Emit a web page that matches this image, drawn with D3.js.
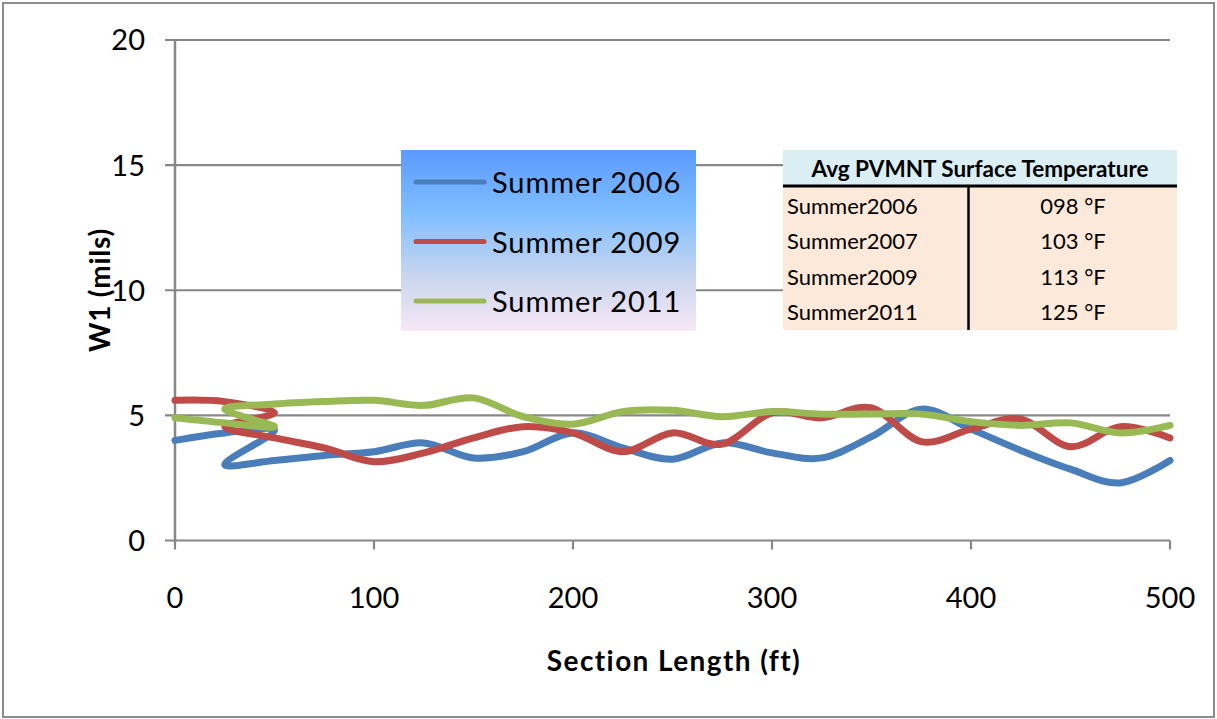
<!DOCTYPE html>
<html><head><meta charset="utf-8">
<script src="https://cdn.jsdelivr.net/npm/d3@7"></script>
<style>
html,body{margin:0;padding:0;background:#fff;}
svg{display:block;}
text{font-family:Lato,"Open Sans",sans-serif;}
</style></head>
<body><svg id="chart" width="1217" height="719"></svg>
<script>
// ---- data ----
const seriesNames = ["Summer 2006", "Summer 2009", "Summer 2011"];
const x2006 = [0,25,50,25,50,75,100,125,150,175,200,225,250,275,300,325,350,375,400,425,450,475,500];
const y2006 = [4.0,4.3,4.4,3.05,3.2,3.4,3.55,3.9,3.3,3.55,4.3,3.7,3.25,3.9,3.5,3.3,4.15,5.25,4.45,3.6,2.85,2.3,3.2];
const x2009 = [0,25,50,25,50,75,100,125,150,175,200,225,250,275,300,325,350,375,400,425,450,475,500];
const y2009 = [5.6,5.55,5.1,4.55,4.1,3.7,3.15,3.5,4.1,4.55,4.3,3.55,4.3,3.85,5.1,4.9,5.3,3.95,4.45,4.85,3.75,4.55,4.1];
const x2011 = [0,25,50,25,50,75,100,125,150,175,200,225,250,275,300,325,350,375,400,425,450,475,500];
const y2011 = [4.9,4.7,4.55,5.25,5.45,5.55,5.6,5.4,5.7,4.95,4.65,5.15,5.2,4.95,5.15,5.05,5.05,5.05,4.75,4.6,4.7,4.3,4.6];
const xTicks = [0,100,200,300,400,500];
const yTicks = [0,5,10,15,20];
const tableTitle = "Avg PVMNT Surface Temperature";
const tableLabels = ["Summer2006","Summer2007","Summer2009","Summer2011"];
const tableValues = ["098 °F","103 °F","113 °F","125 °F"];
const colors = ["#4A7EBB","#BE4B48","#98B954"];

// ---- layout ----
const svg = d3.select("#chart");
const L = 175, R = 1170, T = 40, B = 540.5;
const x = d3.scaleLinear().domain([0,500]).range([L,R]);
const y = d3.scaleLinear().domain([0,20]).range([B,T]);

// outer border
svg.append("rect").attr("x",3).attr("y",3).attr("width",1211).attr("height",714)
  .attr("fill","#fff").attr("stroke","#8c8c8c").attr("stroke-width",2);

// gridlines
svg.append("g").selectAll("line").data(yTicks).join("line")
  .attr("x1",165).attr("x2",R).attr("y1",d=>y(d)).attr("y2",d=>y(d))
  .attr("stroke","#878787").attr("stroke-width",2.2);

// y axis line
svg.append("line").attr("x1",L).attr("x2",L).attr("y1",T-1).attr("y2",B+1)
  .attr("stroke","#878787").attr("stroke-width",2.5);
// x ticks
svg.append("g").selectAll("line").data(xTicks).join("line")
  .attr("x1",d=>x(d)).attr("x2",d=>x(d)).attr("y1",B).attr("y2",B+9)
  .attr("stroke","#878787").attr("stroke-width",2.2);

// tick labels
svg.append("g").selectAll("text").data(yTicks).join("text")
  .attr("x",145).attr("y",d=>y(d)).attr("dy","0.36em").attr("text-anchor","end")
  .attr("font-size",29).attr("fill","#000").text(d=>d);
svg.append("g").selectAll("text").data(xTicks).join("text")
  .attr("x",d=>x(d)).attr("y",598).attr("dy","0.36em").attr("text-anchor","middle")
  .attr("font-size",29).attr("fill","#000").text(d=>d);

// axis titles
svg.append("text").attr("transform","translate(110,290) rotate(-90)")
  .attr("text-anchor","middle").attr("font-weight","bold").attr("font-size",28)
  .attr("letter-spacing",0.8).text("W1 (mils)");
svg.append("text").attr("x",674).attr("y",661).attr("dy","0.36em")
  .attr("text-anchor","middle").attr("font-weight","bold").attr("font-size",28)
  .attr("letter-spacing",1.4).text("Section Length (ft)");

// lines
const lineGen = d3.line().x(d=>x(d[0])).y(d=>y(d[1])).curve(d3.curveCatmullRom.alpha(0));
const allSeries = [
  d3.zip(x2006,y2006), d3.zip(x2009,y2009), d3.zip(x2011,y2011)
];
[0,1,2].forEach(i=>{
  svg.append("path").datum(allSeries[i]).attr("d",lineGen)
    .attr("fill","none").attr("stroke",colors[i]).attr("stroke-width",7)
    .attr("stroke-linejoin","round").attr("stroke-linecap","round");
});

// legend
const defs = svg.append("defs");
const grad = defs.append("linearGradient").attr("id","lg").attr("x1",0).attr("x2",0).attr("y1",0).attr("y2",1);
grad.append("stop").attr("offset","0%").attr("stop-color","#5B9AFF");
grad.append("stop").attr("offset","35%").attr("stop-color","#7FBEFF");
grad.append("stop").attr("offset","70%").attr("stop-color","#C9D6EE");
grad.append("stop").attr("offset","100%").attr("stop-color","#F8E8F6");
const lg = svg.append("g");
lg.append("rect").attr("x",401).attr("y",150).attr("width",295).attr("height",181).attr("fill","url(#lg)");
seriesNames.forEach((n,i)=>{
  const yy = 182 + i*59.5;
  lg.append("line").attr("x1",416).attr("x2",484).attr("y1",yy).attr("y2",yy)
    .attr("stroke",colors[i]).attr("stroke-width",5).attr("stroke-linecap","round");
  lg.append("text").attr("x",492).attr("y",yy+1).attr("dy","0.36em")
    .attr("font-size",29).attr("letter-spacing",0.9).text(n);
});

// table
const tg = svg.append("g");
tg.append("rect").attr("x",783).attr("y",150).attr("width",394).attr("height",35).attr("fill","#DBEEF4");
tg.append("rect").attr("x",783).attr("y",187).attr("width",394).attr("height",143).attr("fill","#FDE9D9");
tg.append("line").attr("x1",783).attr("x2",1177).attr("y1",186).attr("y2",186).attr("stroke","#000").attr("stroke-width",3);
tg.append("line").attr("x1",968.5).attr("x2",968.5).attr("y1",187).attr("y2",330).attr("stroke","#000").attr("stroke-width",2.5);
tg.append("text").attr("x",980).attr("y",169).attr("dy","0.36em").attr("text-anchor","middle")
  .attr("font-weight","bold").attr("font-size",22.5).text(tableTitle);
tableLabels.forEach((t,i)=>{
  const yy = 206 + i*35.5;
  tg.append("text").attr("x",787).attr("y",yy).attr("dy","0.36em").attr("font-size",22).text(t);
  tg.append("text").attr("x",1073).attr("y",yy).attr("dy","0.36em").attr("text-anchor","middle").attr("font-size",22).text(tableValues[i]);
});
</script></body></html>
